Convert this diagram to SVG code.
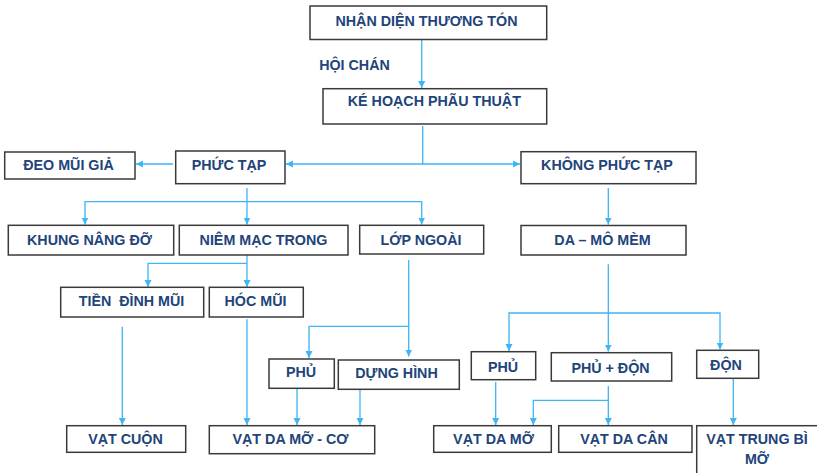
<svg xmlns="http://www.w3.org/2000/svg" width="817" height="473" viewBox="0 0 817 473">
<style>
.box{fill:#ffffff;stroke:#3a3a3a;stroke-width:1.5}
.t{font-family:"Liberation Sans",Arial,sans-serif;font-weight:bold;font-size:14.3px;fill:#22447a;text-anchor:middle}
.c{fill:none;stroke:#3db6f5;stroke-width:1.3}
</style>
<defs>
<marker id="ah" markerUnits="userSpaceOnUse" markerWidth="8" markerHeight="8" refX="7" refY="4" orient="auto">
<path d="M0,0.5 L7,4 L0,7.5 Z" fill="#3db6f5"/>
</marker>
</defs>
<rect width="817" height="473" fill="#ffffff"/>
<g id="connectors">
<path class="c" d="M421.7,39.5 V88" marker-end="url(#ah)"/>
<path class="c" d="M422.7,126 V164 H520" marker-end="url(#ah)"/>
<path class="c" d="M422.7,164 H286" marker-end="url(#ah)"/>
<path class="c" d="M173,164 H136" marker-end="url(#ah)"/>
<path class="c" d="M247,188 V224.5" marker-end="url(#ah)"/>
<path class="c" d="M247,201.7 H85 V224.5" marker-end="url(#ah)"/>
<path class="c" d="M247,201.7 H421.7 V224.5" marker-end="url(#ah)"/>
<path class="c" d="M608.3,188 V224.5" marker-end="url(#ah)"/>
<path class="c" d="M247,255 V287" marker-end="url(#ah)"/>
<path class="c" d="M247,263.3 H148 V287" marker-end="url(#ah)"/>
<path class="c" d="M408.7,260 V356.5" marker-end="url(#ah)"/>
<path class="c" d="M408.7,326.3 H309 V358" marker-end="url(#ah)"/>
<path class="c" d="M122.3,326.7 V425" marker-end="url(#ah)"/>
<path class="c" d="M247,319.3 V425" marker-end="url(#ah)"/>
<path class="c" d="M297,388.3 V425" marker-end="url(#ah)"/>
<path class="c" d="M360,389.3 V425" marker-end="url(#ah)"/>
<path class="c" d="M608.3,264.3 V351.5" marker-end="url(#ah)"/>
<path class="c" d="M608.3,313 H509 V351" marker-end="url(#ah)"/>
<path class="c" d="M608.3,313 H720 V349.5" marker-end="url(#ah)"/>
<path class="c" d="M495.7,382 V425" marker-end="url(#ah)"/>
<path class="c" d="M608.3,386 V425" marker-end="url(#ah)"/>
<path class="c" d="M608.3,400.3 H533.3 V425" marker-end="url(#ah)"/>
<path class="c" d="M733.3,379 V425" marker-end="url(#ah)"/>
</g>
<g id="n-nhandien"><rect class="box" x="310" y="6" width="236.7" height="33.5"/><text class="t" x="426.5" y="26">NHẬN DIỆN THƯƠNG TÓN</text></g>
<g id="l-hoichan"><text class="t" x="354.5" y="70">HỘI CHÁN</text></g>
<g id="n-kehoach"><rect class="box" x="323" y="88.7" width="223.7" height="35.3"/><text class="t" x="434.3" y="105.5">KÉ HOẠCH PHÃU THUẬT</text></g>
<g id="n-phuctap"><rect class="box" x="175.7" y="151" width="109.3" height="32.7"/><text class="t" x="229" y="170">PHỨC TẠP</text></g>
<g id="n-deomui"><rect class="box" x="4.7" y="152" width="130.3" height="27"/><text class="t" x="68.5" y="170">ĐEO MŨI GIẢ</text></g>
<g id="n-khongphuctap"><rect class="box" x="521" y="151.7" width="175" height="32"/><text class="t" x="607" y="170">KHÔNG PHỨC TẠP</text></g>
<g id="n-khung"><rect class="box" x="8.3" y="225.3" width="165.4" height="29.7"/><text class="t" x="89.5" y="245">KHUNG NÂNG ĐỠ</text></g>
<g id="n-niemmac"><rect class="box" x="179.3" y="225.3" width="168.7" height="29.7"/><text class="t" x="263.5" y="245">NIÊM MẠC TRONG</text></g>
<g id="n-lopngoai"><rect class="box" x="359.7" y="225.3" width="124" height="28.7"/><text class="t" x="421" y="245">LỚP NGOÀI</text></g>
<g id="n-damomem"><rect class="box" x="521" y="225.5" width="165" height="29.5"/><text class="t" x="602.5" y="245">DA – MÔ MÈM</text></g>
<g id="n-tiendinh"><rect class="box" x="60.7" y="287.3" width="143" height="29.7"/><text class="t" x="131.5" y="306" xml:space="preserve">TIỀN  ĐÌNH MŨI</text></g>
<g id="n-hocmui"><rect class="box" x="209.3" y="287.3" width="94" height="29.7"/><text class="t" x="255.5" y="306">HÓC MŨI</text></g>
<g id="n-phu1"><rect class="box" x="269" y="359" width="65.3" height="29.3"/><text class="t" x="301" y="377">PHỦ</text></g>
<g id="n-dunghinh"><rect class="box" x="338.3" y="360" width="121" height="29.3"/><text class="t" x="396.5" y="378.3">DỰNG HÌNH</text></g>
<g id="n-phu2"><rect class="box" x="471.3" y="351.7" width="64.4" height="28"/><text class="t" x="503" y="371.5">PHỦ</text></g>
<g id="n-phudon"><rect class="box" x="551.3" y="352.7" width="120.4" height="28.3"/><text class="t" x="610.5" y="372.5">PHỦ + ĐỘN</text></g>
<g id="n-don"><rect class="box" x="696.7" y="350.3" width="62" height="28"/><text class="t" x="726" y="369.5">ĐỘN</text></g>
<g id="n-vatcuon"><rect class="box" x="66.7" y="425.7" width="119" height="26.6"/><text class="t" x="125.5" y="444">VẠT CUỘN</text></g>
<g id="n-vatdamoco"><rect class="box" x="209.3" y="425.7" width="165.4" height="28"/><text class="t" x="290.5" y="444">VẠT DA MỠ - CƠ</text></g>
<g id="n-vatdamo"><rect class="box" x="433.7" y="425.7" width="117.6" height="26.6"/><text class="t" x="493.5" y="444">VẠT DA MỠ</text></g>
<g id="n-vatdacan"><rect class="box" x="558.7" y="425.7" width="133.3" height="26.6"/><text class="t" x="624" y="444">VẠT DA CÂN</text></g>
<g id="n-vattrungbi"><rect class="box" x="696.7" y="425.7" width="130" height="60"/><text class="t" x="757" y="444">VẠT TRUNG BÌ</text><text class="t" x="757" y="463.5">MỠ</text></g>
</svg>
